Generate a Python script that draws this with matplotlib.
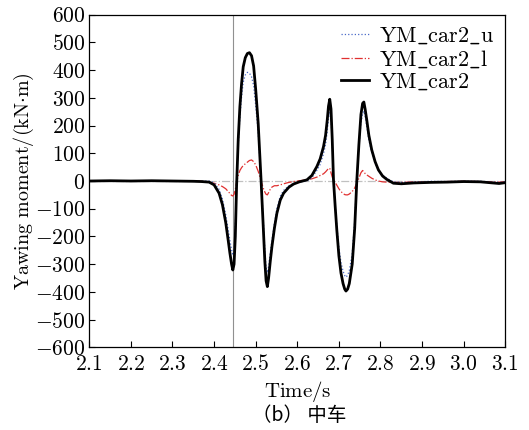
import matplotlib
matplotlib.use("Agg")
import matplotlib.pyplot as plt

plt.rcParams['mathtext.fontset'] = 'cm'
plt.rcParams['font.family'] = ['cmr10', 'DejaVu Serif']
plt.rcParams['axes.formatter.use_mathtext'] = True
plt.rcParams['axes.unicode_minus'] = True

time_s = [2.10, 2.15, 2.20, 2.25, 2.30, 2.35, 2.37, 2.388, 2.40, 2.412, 2.42, 2.428, 2.434, 2.438,
          2.442, 2.445, 2.448, 2.451, 2.454, 2.458, 2.462, 2.466, 2.470, 2.475, 2.480, 2.485,
          2.490, 2.495, 2.500, 2.506, 2.513, 2.518, 2.522, 2.525, 2.528, 2.531, 2.535, 2.539,
          2.545, 2.551, 2.559, 2.567, 2.580, 2.591, 2.605, 2.623, 2.635, 2.647, 2.655, 2.663,
          2.668, 2.672, 2.675, 2.678, 2.681, 2.684, 2.687, 2.691, 2.695, 2.700, 2.705, 2.710,
          2.714, 2.717, 2.721, 2.725, 2.732, 2.738, 2.743, 2.748, 2.753, 2.757, 2.760, 2.763,
          2.767, 2.772, 2.779, 2.787, 2.795, 2.805, 2.815, 2.831, 2.85, 2.88, 2.92, 2.96, 3.00,
          3.04, 3.07, 3.085, 3.10]

ym_car2 = [0, 1, 0, 1, 0, -1, -2, -4, -14, -44, -85, -150, -215, -260,
           -300, -321, -300, -200, -20, 150, 268, 350, 412, 445, 460, 463,
           452, 415, 330, 208, 0, -160, -290, -360, -381, -350, -290, -237,
           -170, -116, -69, -44, -22, -11, -3, 4, 20, 52, 80, 124,
           165, 220, 270, 295, 260, 150, 4, -90, -177, -270, -332, -370,
           -390, -397, -390, -370, -300, -170, 0, 130, 240, 280, 285, 260,
           220, 165, 112, 70, 40, 18, 6, -8, -10, -7, -5, -4, -2,
           -3, -7, -9, -6]

ym_car2_l = [0, 0, 0, 0, 0, 0, -1, -4, -8, -14, -20, -28, -38, -45,
             -52, -54, -48, -30, -5, 20, 38, 48, 56, 62, 68, 74,
             76, 70, 58, 35, 0, -25, -40, -48, -50, -42, -30, -22,
             -17, -17, -14, -10, -5, -2, 1, 4, 8, 14, 20, 26,
             33, 40, 45, 46, 30, 14, 4, -5, -15, -28, -38, -45,
             -49, -50, -50, -47, -38, -25, -8, 10, 30, 38, 33, 27,
             22, 17, 10, 4, 0, -3, -4, -5, -5, -3, -4, -2, -1,
             -2, -3, -4, -3]

ym_car2_u = [0, 1, 0, 1, 0, -1, -1, 0, -6, -30, -65, -122, -177, -215,
             -248, -267, -252, -170, -15, 130, 230, 302, 356, 383, 392, 389,
             376, 345, 272, 173, 0, -135, -250, -312, -331, -308, -260, -215,
             -153, -99, -55, -34, -17, -9, -4, 0, 12, 38, 60, 98,
             132, 180, 225, 249, 230, 136, 0, -85, -162, -242, -294, -325,
             -341, -347, -340, -323, -262, -145, 8, 120, 210, 242, 252, 233,
             198, 148, 102, 66, 40, 21, 10, -3, -5, -4, -1, -2, -1,
             -1, -4, -5, -3]

marker_time = 2.446
x_ticks = [2.1, 2.2, 2.3, 2.4, 2.5, 2.6, 2.7, 2.8, 2.9, 3.0, 3.1]
x_tick_labels = ['2.1', '2.2', '2.3', '2.4', '2.5', '2.6', '2.7', '2.8', '2.9', '3.0', '3.1']
y_ticks = list(range(-600, 601, 100))

fig = plt.figure(figsize=(5.29, 4.30), dpi=100)
ax = fig.add_axes([0.1688, 0.1923, 0.7864, 0.7735])

ax.axhline(0, color='#c0c0c0', lw=0.9, ls='-.', zorder=1)
ax.axvline(marker_time, color='#909090', lw=0.8, zorder=1)

ax.plot(time_s, ym_car2_u, color='#4a6ac8', lw=0.9, ls=':', label=r'$\mathrm{YM\_car2\_u}$', zorder=3)
ax.plot(time_s, ym_car2_l, color='#e03030', lw=0.9, ls='-.', label=r'$\mathrm{YM\_car2\_l}$', zorder=2)
ax.plot(time_s, ym_car2, color='black', lw=2.0, ls='-', label=r'$\mathrm{YM\_car2}$', zorder=4)

ax.set_xlim(2.1, 3.1)
ax.set_ylim(-600, 600)
ax.set_xticks(x_ticks)
ax.set_xticklabels([r'$' + s + r'$' for s in x_tick_labels])
ax.set_yticks(y_ticks)
ax.set_yticklabels([r'$' + (r'-' if v < 0 else '') + str(abs(v)) + r'$' for v in y_ticks])
ax.tick_params(direction='in', length=4, width=0.8, labelsize=15.5, top=False, right=False)
ax.tick_params(axis='x', pad=5)
ax.tick_params(axis='y', pad=3)
for s in ax.spines.values():
    s.set_linewidth(0.9)

ax.set_xlabel(r'$\mathrm{Time/s}$', fontsize=15, va='center')
ax.xaxis.set_label_coords(0.5, -0.134)
ax.set_ylabel(r'$\mathrm{Yawing\ moment/(kN{\cdot}m)}$', fontsize=14.5, va='center')
ax.yaxis.set_label_coords(-0.157, 0.5)

leg = ax.legend(loc='upper right', frameon=False, fontsize=16, handlelength=1.25,
                handletextpad=0.45, labelspacing=0.08, borderaxespad=0.1)

fig.text(0.566, 0.034, '（b） 中车', fontsize=14, ha='center', va='center',
         family=['Noto Sans CJK SC', 'DejaVu Sans'])

fig.savefig('out.png', dpi=100)
